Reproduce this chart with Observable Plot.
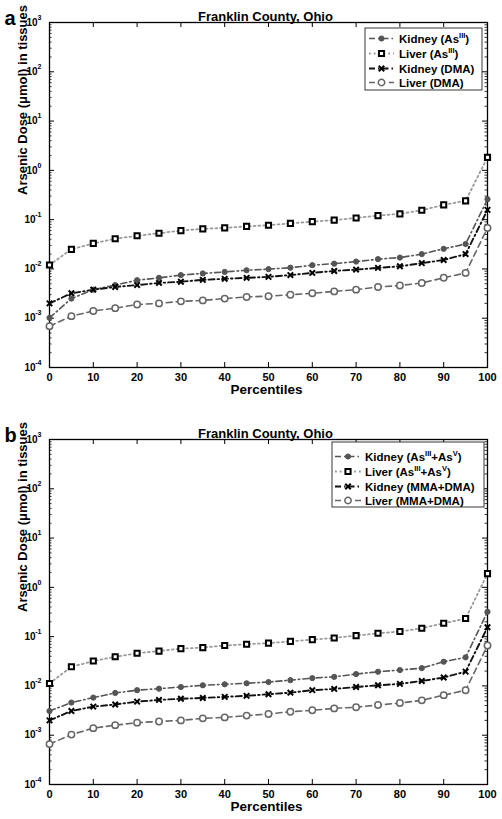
<!DOCTYPE html>
<html><head><meta charset="utf-8">
<script src="https://cdn.jsdelivr.net/npm/d3@7"></script>
<script src="https://cdn.jsdelivr.net/npm/@observablehq/plot@0.6"></script>
<style>
body{margin:0;background:#fff;}
#wrap{position:relative;width:502px;height:819px;overflow:hidden;}
#wrap > div{position:absolute;left:0;}
</style></head><body>
<div id="wrap"><div id="pa" style="top:0"></div><div id="pb" style="top:409px"></div></div>
<script>
// ---- data ----
const percentiles = [0,5,10,15,20,25,30,35,40,45,50,55,60,65,70,75,80,85,90,95,100];
const xTicks = [0,10,20,30,40,50,60,70,80,90,100];
const yDecades = [1e-4,1e-3,1e-2,1e-1,1,10,100,1000];
const yExponents = ["-4","-3","-2","-1","0","1","2","3"];
const titleText = "Franklin County, Ohio";
const xLabel = "Percentiles";
const yLabel = "Arsenic Dose (\u03bcmol) in tissues";

// Panel a
const kidneyAsIII_a = [0.00102,0.0025,0.0038,0.0047,0.0059,0.0066,0.0075,0.0081,0.0087,0.0094,0.0099,0.0106,0.0119,0.0128,0.0141,0.0158,0.017,0.020,0.0256,0.032,0.26];
const liverAsIII_a  = [0.012,0.025,0.033,0.041,0.047,0.053,0.060,0.065,0.068,0.073,0.077,0.084,0.091,0.098,0.108,0.121,0.131,0.155,0.20,0.24,1.84];
const kidneyDMA_a   = [0.0020,0.0032,0.0038,0.0043,0.0047,0.0052,0.0055,0.006,0.0063,0.0066,0.0069,0.0075,0.0083,0.0091,0.0097,0.0105,0.0113,0.0131,0.0152,0.020,0.158];
const liverDMA_a    = [0.00069,0.0011,0.0014,0.0016,0.0019,0.0020,0.0022,0.0023,0.0025,0.0027,0.0028,0.0030,0.0032,0.0035,0.0038,0.0043,0.0046,0.0052,0.0066,0.0083,0.068];
const legendA = [
  [["Kidney (As",0],["III",1],[")",0]],
  [["Liver (As",0],["III",1],[")",0]],
  [["Kidney (DMA)",0]],
  [["Liver (DMA)",0]]
];
// Panel b
const kidneyAsIIIV_b = [0.0031,0.0046,0.0058,0.0072,0.0082,0.0088,0.0095,0.0103,0.0108,0.0113,0.012,0.0131,0.0144,0.0153,0.0174,0.0194,0.021,0.023,0.031,0.038,0.32];
const liverAsIIIV_b  = [0.0112,0.0245,0.032,0.039,0.046,0.051,0.057,0.060,0.066,0.070,0.074,0.080,0.087,0.094,0.105,0.117,0.127,0.148,0.187,0.233,1.9];
const kidneyMMADMA_b = [0.0020,0.0031,0.0038,0.0042,0.0048,0.0052,0.0055,0.0057,0.006,0.0063,0.0068,0.0073,0.0082,0.0087,0.0095,0.0103,0.011,0.0126,0.0148,0.0195,0.155];
const liverMMADMA_b  = [0.00066,0.00103,0.00139,0.0016,0.0018,0.0019,0.0020,0.0022,0.0023,0.0025,0.0027,0.0030,0.0032,0.0035,0.0037,0.0041,0.0045,0.0051,0.0065,0.0082,0.066];
const legendB = [
  [["Kidney (As",0],["III",1],["+As",0],["V",1],[")",0]],
  [["Liver (As",0],["III",1],["+As",0],["V",1],[")",0]],
  [["Kidney (MMA+DMA)",0]],
  [["Liver (MMA+DMA)",0]]
];

// ---- styles ----
const FONT = "'Liberation Sans', Arial, Helvetica, sans-serif";
const styles = [
  {stroke:"#555", width:1.6, dash:"6,3,1.5,3", symbol:"circle", r:2.6, fill:"#555", mstroke:"#555", mwidth:1},
  {stroke:"#9a9a9a", width:1.8, dash:"1.8,3", symbol:"square", r:2.9, fill:"white", mstroke:"#000", mwidth:2},
  {stroke:"#111", width:1.9, dash:"6,3,1.5,3", symbol:"times", r:2.6, fill:"none", mstroke:"#000", mwidth:2},
  {stroke:"#666", width:1.6, dash:"6,4", symbol:"circle", r:3.2, fill:"white", mstroke:"#666", mwidth:1.5}
];

const yMinor = [];
for (let k = 0; k < yDecades.length - 1; k++) for (let m = 2; m <= 9; m++) yMinor.push(m * yDecades[k]);

const W = 502, ML = 49, MR = 15, FH = 345, FW = W - ML - MR;

function panel(el, {series, names, height, marginTop, letter, legend}) {
  const marks = [];
  // ticks (inward)
  marks.push(Plot.tickY(yMinor, {y: d => d, insetRight: FW - 2.5, stroke: "black", strokeWidth: 0.8}));
  marks.push(Plot.tickY(yMinor, {y: d => d, insetLeft: FW - 2.5, stroke: "black", strokeWidth: 0.8}));
  marks.push(Plot.tickY(yDecades, {y: d => d, insetRight: FW - 5, stroke: "black", strokeWidth: 1}));
  marks.push(Plot.tickY(yDecades, {y: d => d, insetLeft: FW - 5, stroke: "black", strokeWidth: 1}));
  marks.push(Plot.tickX(xTicks, {x: d => d, insetTop: FH - 5, stroke: "black", strokeWidth: 1}));
  marks.push(Plot.tickX(xTicks, {x: d => d, insetBottom: FH - 5, stroke: "black", strokeWidth: 1}));
  marks.push(Plot.frame({stroke: "black", strokeWidth: 1.3}));
  // series
  series.forEach((vals, i) => {
    const st = styles[i];
    const rows = percentiles.map((p, j) => ({p, v: vals[j]}));
    marks.push(Plot.line(rows, {x: "p", y: "v", stroke: st.stroke, strokeWidth: st.width, strokeDasharray: st.dash}));
  });
  series.forEach((vals, i) => {
    const st = styles[i];
    const rows = percentiles.map((p, j) => ({p, v: vals[j]}));
    marks.push(Plot.dot(rows, {x: "p", y: "v", symbol: st.symbol, r: st.r, fill: st.fill, stroke: st.mstroke, strokeWidth: st.mwidth}));
  });
  // y tick labels 10^n
  const lab = yDecades.map((d, i) => ({d, e: yExponents[i], neg: yExponents[i].startsWith("-")}));
  marks.push(Plot.text(lab, {y: "d", text: "e", frameAnchor: "left", textAnchor: "end", dx: -8, dy: -5, fontSize: 7, fontWeight: "bold", fill: "black"}));
  marks.push(Plot.text(lab.filter(l => l.neg), {y: "d", text: () => "10", frameAnchor: "left", textAnchor: "end", dx: -14, dy: 0, fontSize: 10, fontWeight: "bold", fill: "black"}));
  marks.push(Plot.text(lab.filter(l => !l.neg), {y: "d", text: () => "10", frameAnchor: "left", textAnchor: "end", dx: -12, dy: 0, fontSize: 10, fontWeight: "bold", fill: "black"}));
  // x tick labels
  marks.push(Plot.text(xTicks, {x: d => d, text: d => String(d), frameAnchor: "bottom", dy: 13, fontSize: 11, fontWeight: "bold", fill: "black"}));
  // axis titles
  marks.push(Plot.text([xLabel], {frameAnchor: "bottom", dy: 26, dx: -2, fontSize: 13.5, fontWeight: "bold", fill: "black"}));
  marks.push(Plot.text([yLabel], {frameAnchor: "left", rotate: -90, dx: -27, fontSize: 13, fontWeight: "bold", fill: "black"}));
  marks.push(Plot.text([titleText], {frameAnchor: "top", dy: -11, dx: -3, fontSize: 13, fontWeight: "bold", fill: "black"}));
  marks.push(Plot.text([letter], {frameAnchor: "top-left", dx: -45, dy: -12, textAnchor: "start", fontSize: 20, fontWeight: "bold", fill: "black"}));

  const svg = Plot.plot({
    width: W, height, marginLeft: ML, marginRight: MR, marginTop, marginBottom: height - marginTop - FH,
    x: {domain: [0, 100], axis: null},
    y: {type: "log", domain: [1e-4, 1e3], axis: null},
    style: {fontFamily: FONT, background: "white", color: "black"},
    marks
  });
  drawLegend(svg, legend, names);
  el.appendChild(svg);
}

function symbolOf(name) {
  return name === "square" ? d3.symbolSquare : name === "times" ? d3.symbolTimes : d3.symbolCircle;
}

function drawLegend(svg, L, names) {
  const g = d3.select(svg).append("g").attr("text-anchor", "start");
  g.append("rect").attr("x", L.x).attr("y", L.y).attr("width", L.w).attr("height", L.h)
    .attr("fill", "white").attr("stroke", "#222").attr("stroke-width", 0.9);
  names.forEach((segs, i) => {
    const cy = L.rows[i], st = styles[i];
    g.append("line").attr("x1", L.lx0).attr("x2", L.lx1).attr("y1", cy).attr("y2", cy)
      .attr("stroke", st.stroke).attr("stroke-width", st.width).attr("stroke-dasharray", st.dash);
    g.append("path").attr("transform", `translate(${L.mx},${cy})`)
      .attr("d", d3.symbol(symbolOf(st.symbol), st.r * st.r * Math.PI)())
      .attr("fill", st.fill).attr("stroke", st.mstroke).attr("stroke-width", st.mwidth);
    const t = g.append("text").attr("x", L.tx).attr("y", cy).attr("dy", "0.36em").attr("text-anchor", "start")
      .attr("font-family", FONT).attr("font-weight", "bold").attr("font-size", 11.5).attr("fill", "black");
    let raised = false;
    segs.forEach(([s, sup]) => {
      const ts = t.append("tspan").text(s).attr("font-size", sup ? 7.5 : 11.5);
      if (sup && !raised) { ts.attr("dy", -5); raised = true; }
      else if (!sup && raised) { ts.attr("dy", 5); raised = false; }
    });
  });
}

panel(document.getElementById("pa"), {
  series: [kidneyAsIII_a, liverAsIII_a, kidneyDMA_a, liverDMA_a],
  names: legendA, height: 409, marginTop: 22, letter: "a",
  legend: {x: 365, y: 28, w: 117, h: 62, rows: [38.5, 53.5, 68.5, 82.5], lx0: 369, lx1: 394, mx: 381.5, tx: 399}
});
panel(document.getElementById("pb"), {
  series: [kidneyAsIIIV_b, liverAsIIIV_b, kidneyMMADMA_b, liverMMADMA_b],
  names: legendB, height: 410, marginTop: 30, letter: "b",
  legend: {x: 332, y: 33, w: 152, h: 65, rows: [47.5, 62.5, 77.5, 91.5], lx0: 335, lx1: 361, mx: 348, tx: 365}
});
</script></body></html>
